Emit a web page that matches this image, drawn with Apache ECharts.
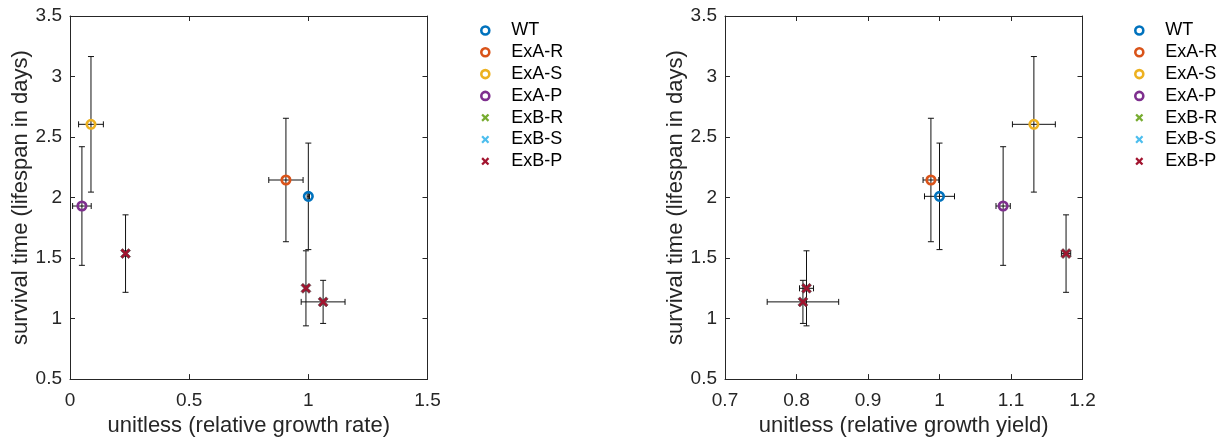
<!DOCTYPE html>
<html>
<head>
<meta charset="utf-8">
<script src="https://cdn.jsdelivr.net/npm/echarts@6/dist/echarts.min.js"></script>
<style>
  html, body { margin: 0; padding: 0; background: #fff; }
  #chart { width: 1227px; height: 442px; }
</style>
</head>
<body>
<div id="chart"></div>
<script>
// Strains and their plotting styles
const strains = ['WT', 'ExA-R', 'ExA-S', 'ExA-P', 'ExB-R', 'ExB-S', 'ExB-P'];
const legendColors = ['#0072BD', '#D95319', '#EDB120', '#7E2F8E', '#77AC30', '#4DBEEE', '#A2142F'];
const markColors = ['#0072BD', '#D95319', '#EDB120', '#7E2F8E', '#A2142F', '#A2142F', '#A2142F'];
const markerShapes = ['o', 'o', 'o', 'o', 'x', 'x', 'x'];

// Measurements (mean and error half-width)
const survivalDays = [2.01, 2.145, 2.605, 1.93, 1.537, 1.25, 1.138];
const survivalErr = [0.44, 0.51, 0.56, 0.49, 0.32, 0.31, 0.178];
const growthRate = [1.00, 0.906, 0.088, 0.050, 0.233, 0.990, 1.062];
const growthRateErr = [0.005, 0.072, 0.052, 0.039, 0.004, 0.004, 0.092];
const growthYield = [1.00, 0.988, 1.132, 1.089, 1.177, 0.814, 0.809];
const growthYieldErr = [0.021, 0.011, 0.030, 0.010, 0.0065, 0.0098, 0.050];

// Tick labels
const rateTicks = ['0', '0.5', '1', '1.5'];
const yieldTicks = ['0.7', '0.8', '0.9', '1', '1.1', '1.2'];
const survivalTicks = ['0.5', '1', '1.5', '2', '2.5', '3', '3.5'];

const FONT = '"Liberation Sans", Arial, Helvetica, sans-serif';
const AXIS_COLOR = '#262626';
const X_PATH = 'path://M2,0L5,3L8,0L10,2L7,5L10,8L8,10L5,7L2,10L0,8L3,5L0,2Z';

function tickRange(ticks) {
  const a = parseFloat(ticks[0]);
  const b = parseFloat(ticks[ticks.length - 1]);
  const step = Math.round((parseFloat(ticks[1]) - a) * 1e6) / 1e6;
  return { min: a, max: b, interval: step };
}

const panels = [
  { x: growthRate, xErr: growthRateErr, ticks: rateTicks, name: 'unitless (relative growth rate)', left: 70, legendLeft: 475 },
  { x: growthYield, xErr: growthYieldErr, ticks: yieldTicks, name: 'unitless (relative growth yield)', left: 725, legendLeft: 1129 }
];

const grid = panels.map(p => ({ left: p.left, top: 16, width: 357.5, height: 365 }));

const xAxis = [];
const yAxis = [];
panels.forEach((p, g) => {
  const xr = tickRange(p.ticks);
  const yr = tickRange(survivalTicks);
  const common = {
    axisLine: { show: true, onZero: false, lineStyle: { color: AXIS_COLOR, width: 1 } },
    axisTick: { show: true, inside: true, length: 5, lineStyle: { color: AXIS_COLOR, width: 1 } },
    splitLine: { show: false }
  };
  xAxis.push(Object.assign({
    type: 'value', gridIndex: g, position: 'bottom',
    min: xr.min, max: xr.max, interval: xr.interval,
    name: p.name, nameLocation: 'middle', nameGap: 32,
    nameTextStyle: { fontSize: 22, color: AXIS_COLOR, fontFamily: FONT },
    axisLabel: {
      margin: 12, fontSize: 19, color: AXIS_COLOR, fontFamily: FONT,
      formatter: (v, i) => p.ticks[i]
    }
  }, common));
  xAxis.push(Object.assign({
    type: 'value', gridIndex: g, position: 'top',
    min: xr.min, max: xr.max, interval: xr.interval,
    axisLabel: { show: false }
  }, common));
  yAxis.push(Object.assign({
    type: 'value', gridIndex: g, position: 'left',
    min: yr.min, max: yr.max, interval: yr.interval,
    name: 'survival time (lifespan in days)', nameLocation: 'middle', nameGap: 35,
    nameTextStyle: { fontSize: 22, color: AXIS_COLOR, fontFamily: FONT },
    axisLabel: {
      margin: 8, fontSize: 19, color: AXIS_COLOR, fontFamily: FONT,
      formatter: (v, i) => survivalTicks[i]
    }
  }, common));
  yAxis.push(Object.assign({
    type: 'value', gridIndex: g, position: 'right',
    min: yr.min, max: yr.max, interval: yr.interval,
    axisLabel: { show: false }
  }, common));
});

// Error bars with end caps, drawn under the markers
function renderErrorBar(params, api) {
  const x = api.value(0), y = api.value(1), ex = api.value(2), ey = api.value(3);
  const l = api.coord([x - ex, y]), r = api.coord([x + ex, y]);
  const t = api.coord([x, y + ey]), b = api.coord([x, y - ey]);
  const cap = 3;
  const style = { stroke: '#111', lineWidth: 1 };
  const seg = (x1, y1, x2, y2) => ({ type: 'line', shape: { x1, y1, x2, y2 }, style });
  return {
    type: 'group',
    children: [
      seg(t[0], t[1], b[0], b[1]),
      seg(t[0] - cap, t[1], t[0] + cap, t[1]),
      seg(b[0] - cap, b[1], b[0] + cap, b[1]),
      seg(l[0], l[1], r[0], r[1]),
      seg(l[0], l[1] - cap, l[0], l[1] + cap),
      seg(r[0], r[1] - cap, r[0], r[1] + cap)
    ]
  };
}

const series = [];
panels.forEach((p, g) => {
  series.push({
    type: 'custom', name: 'error bars', xAxisIndex: 2 * g, yAxisIndex: 2 * g,
    renderItem: renderErrorBar, z: 2, silent: true,
    encode: { x: 0, y: 1 },
    data: strains.map((s, i) => [p.x[i], survivalDays[i], p.xErr[i], survivalErr[i]])
  });
  strains.forEach((s, i) => {
    const isCircle = markerShapes[i] === 'o';
    series.push({
      type: 'scatter', name: s, xAxisIndex: 2 * g, yAxisIndex: 2 * g, z: 3,
      symbol: isCircle ? 'circle' : X_PATH,
      symbolSize: isCircle ? 8.5 : 10,
      itemStyle: isCircle
        ? { color: 'rgba(0,0,0,0)', borderColor: markColors[i], borderWidth: 2.6, opacity: 1 }
        : { color: markColors[i], borderColor: '#444', borderWidth: 0.6, opacity: 1 },
      emphasis: { disabled: true },
      data: [[p.x[i], survivalDays[i]]]
    });
  });
});

const legend = panels.map(p => ({
  orient: 'vertical', left: p.legendLeft, top: 16.5,
  itemWidth: 42, itemHeight: 8, itemGap: 3.8,
  selectedMode: false,
  textStyle: { fontSize: 18, lineHeight: 18, color: '#000', fontFamily: FONT },
  data: strains.map((s, i) => markerShapes[i] === 'o'
    ? { name: s, icon: 'circle', itemStyle: { color: 'rgba(0,0,0,0)', borderColor: legendColors[i], borderWidth: 2.6 } }
    : { name: s, icon: X_PATH, itemStyle: { color: legendColors[i], borderWidth: 0 } })
}));

const chart = echarts.init(document.getElementById('chart'), null, { renderer: 'canvas' });
chart.setOption({
  backgroundColor: '#fff',
  animation: false,
  grid, xAxis, yAxis, legend, series
});
</script>
</body>
</html>
